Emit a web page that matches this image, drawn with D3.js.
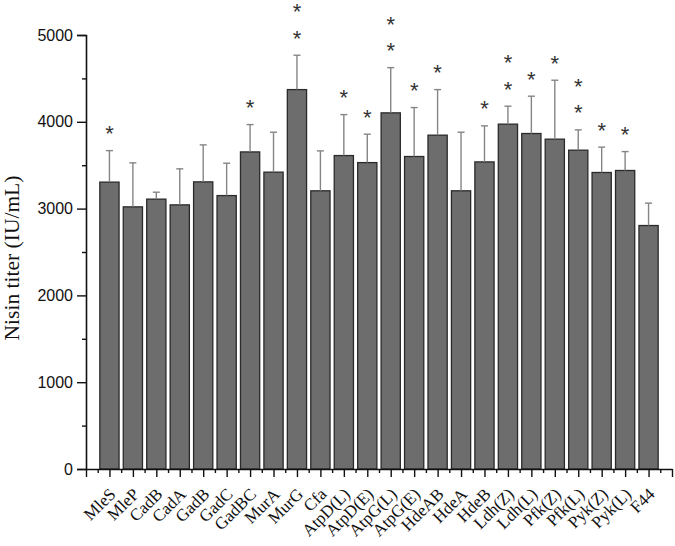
<!DOCTYPE html>
<html><head><meta charset="utf-8">
<script src="https://cdn.jsdelivr.net/npm/d3@7"></script>
<style>html,body{margin:0;padding:0;background:#fff;}svg{display:block;}</style>
</head><body>
<svg id="chart" width="675" height="546"></svg>
<script>
const categories = ["MleS","MleP","CadB","CadA","GadB","GadC","GadBC","MurA","MurG","Cfa","AtpD(L)","AtpD(E)","AtpG(L)","AtpG(E)","HdeAB","HdeA","HdeB","Ldh(Z)","Ldh(L)","Pfk(Z)","Pfk(L)","Pyk(Z)","Pyk(L)","F44"];
const titerMeans = [3305,3020,3109,3043,3308,3150,3653,3420,4371,3205,3611,3530,4103,3600,3846,3205,3538,3973,3865,3800,3673,3416,3439,2805];
const titerErrors = [363,507,80,415,426,373,315,460,396,460,472,327,521,564,525,675,415,207,430,679,234,292,218,258];
const significanceStars = [1,0,0,0,0,0,1,0,2,0,1,1,2,1,1,0,1,2,1,1,2,1,1,0];
const yTicks = [0,1000,2000,3000,4000,5000];

const svg = d3.select("#chart");
const x = d3.scaleLinear().domain([0, categories.length + 1]).range([86, 672]);
const y = d3.scaleLinear().domain([0, 5000]).range([469, 35]);
const unit = x(1) - x(0);
const barW = unit * 0.82;

const data = categories.map((c, i) => ({c, i, m: titerMeans[i], e: titerErrors[i], s: significanceStars[i]}));

// bars
svg.append("g").selectAll("rect").data(data).join("rect")
  .attr("x", d => x(d.i + 1) - barW / 2)
  .attr("y", d => y(d.m))
  .attr("width", barW)
  .attr("height", d => y(0) - y(d.m))
  .attr("fill", "#6d6d6d")
  .attr("stroke", "#2a2a2a")
  .attr("stroke-width", 1.3);

// error bars
const eg = svg.append("g").attr("stroke", "#858585").attr("stroke-width", 1.4);
eg.selectAll("line.v").data(data).join("line").attr("class", "v")
  .attr("x1", d => x(d.i + 1)).attr("x2", d => x(d.i + 1))
  .attr("y1", d => y(d.m)).attr("y2", d => y(d.m + d.e));
eg.selectAll("line.c").data(data).join("line").attr("class", "c")
  .attr("x1", d => x(d.i + 1) - 3.5).attr("x2", d => x(d.i + 1) + 3.5)
  .attr("y1", d => y(d.m + d.e)).attr("y2", d => y(d.m + d.e));

// stars
const starData = [];
data.forEach(d => { for (let k = 0; k < d.s; k++) starData.push({d, k}); });
svg.append("g").selectAll("text").data(starData).join("text")
  .attr("x", s => x(s.d.i + 1))
  .attr("y", s => y(s.d.m + s.d.e) - 22 - s.k * 26.5 + 12.5)
  .attr("text-anchor", "middle")
  .attr("font-family", "Liberation Sans, Arial, sans-serif")
  .attr("font-size", 22)
  .attr("fill", "#333")
  .text("*");

// y axis
const yAxis = svg.append("g").attr("transform", `translate(${x(0)},0)`)
  .call(d3.axisLeft(y).tickValues(yTicks).tickSize(9).tickPadding(4).tickFormat(d3.format("d")));
const yMinor = svg.append("g").attr("transform", `translate(${x(0)},0)`)
  .call(d3.axisLeft(y).tickValues(d3.range(500, 5000, 1000)).tickSize(4).tickFormat(""));
[yAxis, yMinor].forEach(g => {
  g.selectAll("path").attr("stroke", "#111").attr("stroke-width", 1.6);
  g.selectAll("line").attr("stroke", "#111").attr("stroke-width", 1.4);
});
yAxis.selectAll("text").attr("font-family", "Liberation Sans, Arial, sans-serif").attr("font-size", 16).attr("fill", "#111");
yMinor.select("path").remove();

// x axis
const xAxis = svg.append("g").attr("transform", `translate(0,${y(0)})`)
  .call(d3.axisBottom(x).tickValues(d3.range(0, categories.length + 2)).tickSize(8).tickSizeOuter(0).tickFormat(""));
const xMinor = svg.append("g").attr("transform", `translate(0,${y(0)})`)
  .call(d3.axisBottom(x).tickValues(d3.range(0.5, categories.length + 1, 1)).tickSize(4).tickFormat(""));
xMinor.select("path").remove();
[xAxis, xMinor].forEach(g => {
  g.selectAll("path").attr("stroke", "#111").attr("stroke-width", 1.6);
  g.selectAll("line").attr("stroke", "#111").attr("stroke-width", 1.4);
});

// x labels
svg.append("g").selectAll("text").data(data).join("text")
  .attr("transform", d => `translate(${x(d.i + 1) + 3},${y(0) + 22}) rotate(-45)`)
  .attr("text-anchor", "end")
  .attr("dy", "0.35em")
  .attr("font-family", "Liberation Serif, Times New Roman, serif")
  .attr("font-size", 17)
  .attr("fill", "#111")
  .text(d => d.c);

// y label
svg.append("text")
  .attr("transform", "translate(19,258) rotate(-90)")
  .attr("text-anchor", "middle")
  .attr("font-family", "Liberation Serif, Times New Roman, serif")
  .attr("font-size", 21.5)
  .attr("fill", "#111")
  .text("Nisin titer (IU/mL)");
</script>
</body></html>
